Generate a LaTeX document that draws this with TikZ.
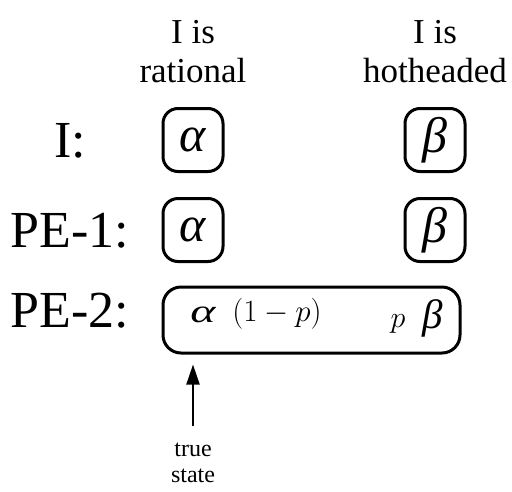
\RequirePackage{fix-cm}
\documentclass[tikz,border=0pt]{standalone}
\usepackage{fontspec}
\setmainfont{Liberation Serif}
\usetikzlibrary{arrows.meta}
\tikzset{
  hdr/.style={align=center,inner sep=0pt,font=\fontsize{35}{39}\selectfont},
  rowlab/.style={anchor=base,inner sep=0pt,font=\fontsize{52}{56}\selectfont},
  stbox/.style={draw,line width=3pt,rounded corners=15pt,minimum width=60pt,minimum height=63pt,inner sep=0pt},
  grk/.style={font=\fontsize{50}{54}\selectfont\itshape},
  arr/.style={line width=2pt,-{Triangle[length=20pt,width=13pt]}},
  small/.style={align=center,inner sep=0pt,font=\fontsize{24}{27}\selectfont}
}
\begin{document}
\begin{tikzpicture}[x=1pt,y=1pt]
\useasboundingbox (0,0) rectangle (512,-491);
% headers
\node[hdr,anchor=base] (h1a) at (193,-43) {I is};
\node[hdr,anchor=base] (h1b) at (193,-82) {rational};
\node[hdr,anchor=base] (h2a) at (435,-43) {I is};
\node[hdr,anchor=base] (h2b) at (435,-82) {hotheaded};
% row labels
\node[rowlab] (l1) at (70,-157) {I:};
\node[rowlab] (l2) at (70,-247) {PE-1:};
\node[rowlab] (l3) at (70,-327) {PE-2:};
% row I
\node[stbox,grk] (a1) at (193,-140) {α};
\node[stbox,grk] (b1) at (435,-140) {β};
% row PE-1
\node[stbox,grk] (a2) at (193,-230) {α};
\node[stbox,grk] (b2) at (435,-230) {β};
% row PE-2
\node[draw,line width=3pt,rounded corners=18pt,minimum width=297pt,minimum height=66pt,inner sep=0pt] (big) at (311.5,-320) {};
\node[anchor=base,inner sep=0pt,font=\fontsize{33}{37}\selectfont\itshape] (a3) at (203,-322) {\scalebox{1.45}[1]{α}};
\node[anchor=base,inner sep=0pt,font=\fontsize{31}{35}\selectfont] (q) at (277,-321) {$(1-p)$};
\node[anchor=base,inner sep=0pt,font=\fontsize{30}{34}\selectfont] (pp) at (398,-327) {$p$};
\node[anchor=base,inner sep=0pt,font=\fontsize{41}{45}\selectfont\itshape] (b3) at (433,-328) {β};
% true state
\node[small,anchor=base] (ts1) at (193,-456) {true};
\node[small,anchor=base] (ts2) at (193,-482) {state};
\draw[arr] ([yshift=16pt]ts1.north) -- ([yshift=-10pt]big.south -| ts1);
\end{tikzpicture}
\end{document}
